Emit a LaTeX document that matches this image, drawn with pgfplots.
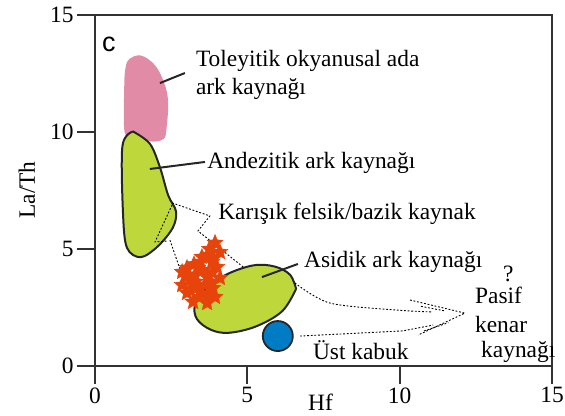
\documentclass[border=0pt]{standalone}
\usepackage{pgfplots}
\pgfplotsset{compat=1.18}
\usepackage{fontspec}
\setmainfont{Liberation Serif}
\newfontfamily\sansf{Liberation Sans}
\definecolor{pinkf}{RGB}{226,139,166}
\definecolor{greenf}{RGB}{190,216,60}
\definecolor{bluef}{RGB}{0,124,196}
\definecolor{starc}{RGB}{230,68,10}
\definecolor{axc}{RGB}{50,50,50}
\newcommand\lf{\fontsize{23.5}{28}\selectfont}
\pgfdeclareplotmark{fstar}{%
  \pgfpathmoveto{\pgfpointpolar{90}{\pgfplotmarksize}}%
  \pgfpathlineto{\pgfpointpolar{126}{0.45\pgfplotmarksize}}%
  \pgfpathlineto{\pgfpointpolar{162}{\pgfplotmarksize}}%
  \pgfpathlineto{\pgfpointpolar{198}{0.45\pgfplotmarksize}}%
  \pgfpathlineto{\pgfpointpolar{234}{\pgfplotmarksize}}%
  \pgfpathlineto{\pgfpointpolar{270}{0.45\pgfplotmarksize}}%
  \pgfpathlineto{\pgfpointpolar{306}{\pgfplotmarksize}}%
  \pgfpathlineto{\pgfpointpolar{342}{0.45\pgfplotmarksize}}%
  \pgfpathlineto{\pgfpointpolar{18}{\pgfplotmarksize}}%
  \pgfpathlineto{\pgfpointpolar{54}{0.45\pgfplotmarksize}}%
  \pgfpathclose
  \pgfusepathqfillstroke}
\begin{document}
\begin{tikzpicture}
\begin{axis}[at={(0,0)}, anchor=south west, scale only axis,
  width=457bp, height=351bp,
  xmin=0, xmax=15, ymin=0, ymax=15,
  xtick={0,5,10,15}, ytick={0,5,10,15},
  tick align=outside, xtick pos=bottom, ytick pos=left,
  major tick length=18bp,
  axis line style={line width=1.8bp, axc},
  tick style={line width=1.8bp, axc},
  ticklabel style={font=\lf},
  /pgf/number format/assume math mode=true,
  clip=false]
% pink field
\addplot[fill=pinkf, draw=none, smooth, tension=0.6] coordinates {
 (0.97,12.4) (1.08,13.05) (1.5,13.27) (1.97,12.85) (2.27,12.1) (2.4,11.3)
 (2.35,10.2) (2.25,9.7) (1.8,9.6) (1.4,9.85) (1.0,9.9) (0.95,11.0) (0.97,12.4)} -- cycle;
% andezitik field
\addplot[fill=greenf, draw=black!85, line width=2bp, smooth, tension=0.55] coordinates {
 (1.25,10.02) (1.8,9.5) (2.13,8.5) (2.4,7.3) (2.66,6.6) (2.55,5.9) (2.05,5.1)
 (1.5,4.65) (1.05,5.05) (0.92,6.5) (0.9,9.4) (1.25,10.02)} -- cycle;
% dotted boundaries
\addplot[black, line width=0.9bp, dash pattern=on 1.8bp off 1.8bp] coordinates {
 (2.53,6.97) (3.77,6.41) (3.38,5.77) (4.99,4.10)};
\addplot[black, line width=0.9bp, dash pattern=on 1.8bp off 1.8bp] coordinates {
 (2.53,6.88) (1.97,5.30) (2.36,5.34)};
\addplot[black, line width=0.9bp, dash pattern=on 1.8bp off 1.8bp] coordinates {
 (2.46,5.38) (2.89,3.76)};
% asidik field
\addplot[fill=greenf, draw=black!85, line width=2bp, smooth, tension=0.6] coordinates {
 (6.6,3.3) (6.4,3.9) (5.9,4.25) (5.2,4.3) (4.3,3.9) (3.6,3.25) (3.28,2.6)
 (3.35,2.0) (3.8,1.55) (4.4,1.42) (5.3,1.7) (6.15,2.35) (6.6,3.3)} -- cycle;
% passive margin arrows
\addplot[black, line width=0.9bp, dash pattern=on 1.8bp off 1.8bp, smooth] coordinates {
 (6.56,3.55) (7.71,2.69) (9.91,2.39) (11.06,2.31)};
\addplot[black, line width=0.9bp, dash pattern=on 1.8bp off 1.8bp] coordinates {
 (6.73,1.28) (10.1,1.5) (11.1,1.75)};
\addplot[black, line width=0.9bp, dash pattern=on 1.8bp off 1.8bp] coordinates {
 (10.34,2.82) (12.14,2.26) (10.6,1.32)};
\addplot[black, line width=0.9bp, dash pattern=on 1.8bp off 1.8bp] coordinates {
 (10.7,2.55) (11.5,2.35)};
\addplot[black, line width=0.9bp, dash pattern=on 1.8bp off 1.8bp] coordinates {
 (10.8,1.5) (11.6,1.85)};
% upper crust
\addplot[only marks, mark=*, mark size=15bp,
  mark options={fill=bluef, draw=black!85, line width=1.8bp}] coordinates {(6.0,1.28)};
% samples
\addplot[only marks, mark=fstar, mark size=8.5bp,
  mark options={fill=starc, draw=starc, line width=0.3bp}] coordinates {
 (3.94,5.26) (4.10,4.87) (3.71,4.74) (3.51,4.66) (4.00,4.23) (3.38,4.19)
 (3.02,4.19) (2.86,4.02) (3.68,3.80) (3.12,3.68) (2.86,3.46) (3.38,3.38)
 (3.87,3.33) (3.02,3.12) (3.68,3.03) (3.94,2.95) (3.22,2.74) (3.68,2.69)
 (3.45,4.44) (3.84,4.44) (3.28,3.89) (3.61,3.46) (3.12,3.25) (4.10,3.76)
 (3.55,4.10) (3.85,4.00) (3.30,3.60) (3.50,3.10) (3.80,3.60) (3.00,3.80)
 (3.40,2.95) (3.90,4.60) (3.25,4.35) (3.75,5.00)};
% leader lines
\addplot[black!85, line width=2bp] coordinates {(2.13,12.09) (2.95,12.52)};
\addplot[black!85, line width=2bp] coordinates {(1.8,8.42) (3.61,8.72)};
\addplot[black!85, line width=2bp] coordinates {(5.48,3.80) (6.66,4.36)};
% labels
\node[anchor=base west, font=\lf, inner sep=0pt] at (axis cs:3.31,12.78) {Toleyitik okyanusal ada};
\node[anchor=base west, font=\lf, inner sep=0pt] at (axis cs:3.31,11.62) {ark kaynağı};
\node[anchor=base west, font=\lf, inner sep=0pt] at (axis cs:3.68,8.46) {Andezitik ark kaynağı};
\node[anchor=base west, font=\lf, inner sep=0pt] at (axis cs:4.04,6.28) {Karışık felsik/bazik kaynak};
\node[anchor=base west, font=\lf, inner sep=0pt] at (axis cs:6.86,4.19) {Asidik ark kaynağı};
\node[anchor=base west, font=\lf, inner sep=0pt] at (axis cs:13.39,3.62) {?};
\node[anchor=base west, font=\lf, inner sep=0pt] at (axis cs:12.47,2.69) {Pasif};
\node[anchor=base west, font=\lf, inner sep=0pt] at (axis cs:12.47,1.45) {kenar};
\node[anchor=base west, font=\lf, inner sep=0pt] at (axis cs:12.67,0.38) {kaynağı};
\node[anchor=base west, font=\lf, inner sep=0pt] at (axis cs:7.15,0.26) {Üst kabuk};
\node[anchor=base west, font={\sansf\fontsize{27}{30}\selectfont}, inner sep=0pt] at (axis cs:0.23,13.42) {c};
\node[anchor=base west, font=\lf, inner sep=0pt] at (axis cs:6.99,-1.90) {Hf};
\node[anchor=base, rotate=90, font=\lf, inner sep=0pt] at (axis cs:-1.97,7.52) {La/Th};
\end{axis}
\pgfresetboundingbox
\useasboundingbox (-95bp,-50bp) rectangle (470bp,366bp);
\end{tikzpicture}
\end{document}
